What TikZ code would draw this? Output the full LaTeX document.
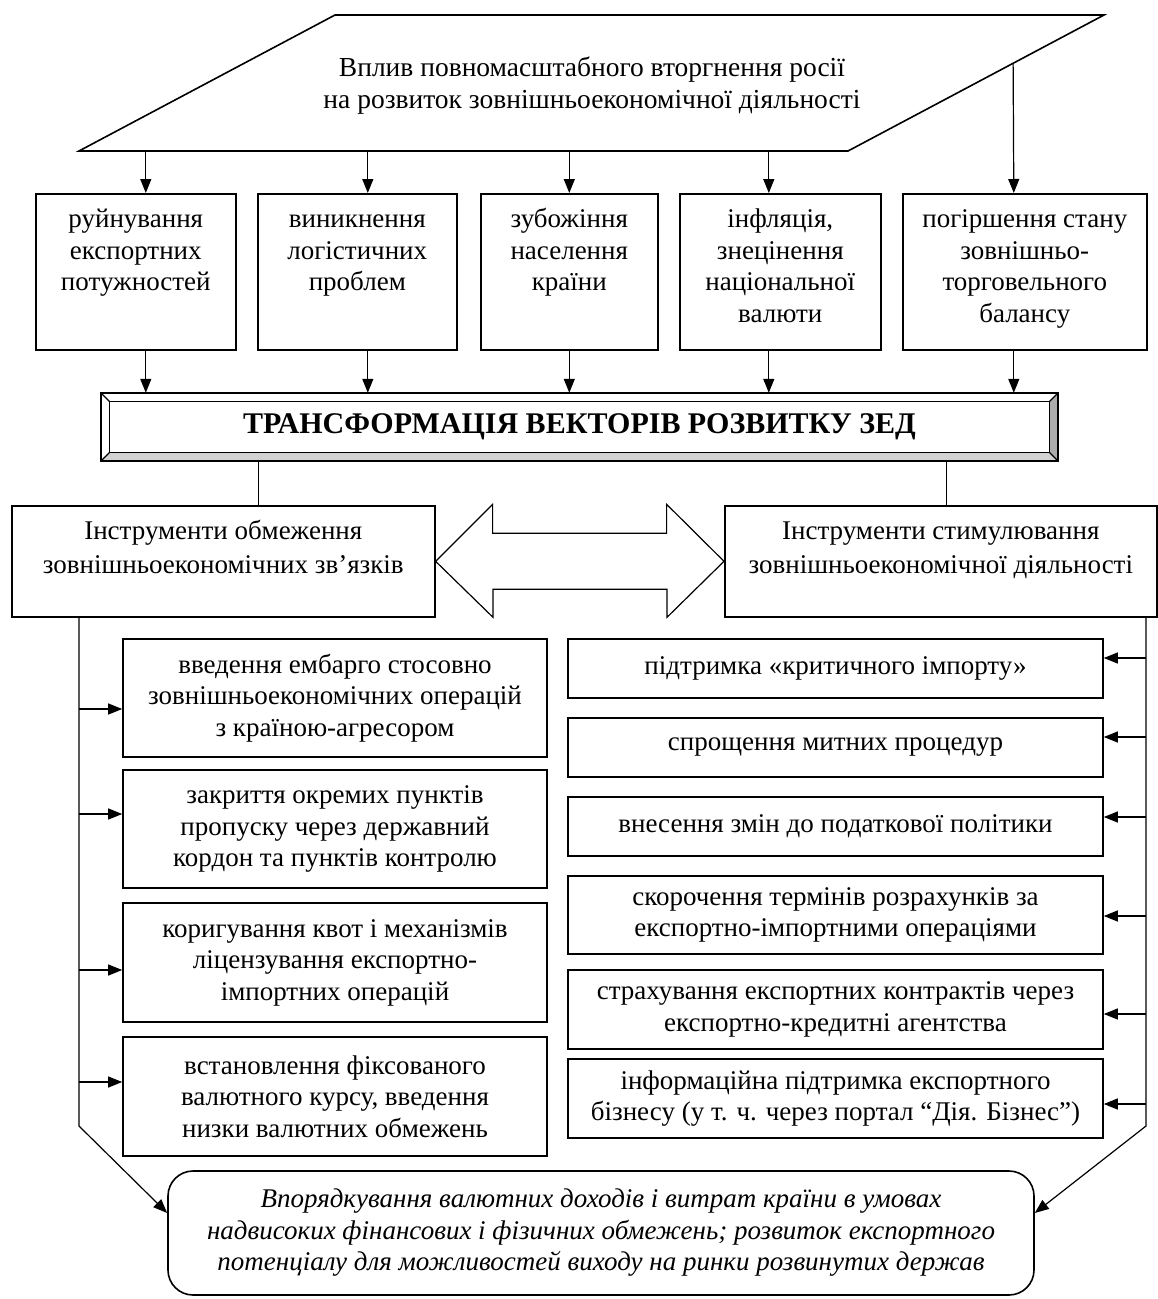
\documentclass[tikz,border=0pt]{standalone}
\usepackage{fontspec}
\setmainfont{Liberation Serif}
\usetikzlibrary{arrows.meta,calc}
\newcommand\tbx[3]{\parbox[c][#2][t]{#1}{\centering\rule{0pt}{34pt}#3}}
\begin{document}
\begin{tikzpicture}[x=1pt,y=-1pt,
  every node/.style={font=\fontsize{27}{31.5}\selectfont},
  box/.style={draw, line width=1.6pt, inner sep=0pt, align=center},
  frame/.style={draw, line width=1.6pt},
  ln/.style={line width=1.2pt},
  arr/.style={ln, -{Triangle[length=14pt,width=11pt]}},
]
\useasboundingbox[fill=white] (0,0) rectangle (1158,1299);

% parallelogram
\coordinate (PTL) at (335,15);
\coordinate (PTR) at (1104,15);
\coordinate (PBR) at (848,151);
\coordinate (PBL) at (79,151);
\draw[frame] (PTL) -- (PTR) -- (PBR) -- (PBL) -- cycle;
\node[align=center, font=\fontsize{27.5}{32}\selectfont] (P) at (592,86) {Вплив повномасштабного вторгнення росії\\на розвиток зовнішньоекономічної діяльності};

% top boxes
\node[box, anchor=north west] (b1) at (35,193) {\tbx{200pt}{156pt}{руйнування\\експортних\\потужностей}};
\node[box, anchor=north west] (b2) at (257,193) {\tbx{199pt}{156pt}{виникнення\\логістичних\\проблем}};
\node[box, anchor=north west] (b3) at (480,193) {\tbx{177pt}{156pt}{зубожіння\\населення\\країни}};
\node[box, anchor=north west] (b4) at (679,193) {\tbx{201pt}{156pt}{інфляція,\\знецінення\\національної\\валюти}};
\node[box, anchor=north west] (b5) at (902,193) {\tbx{244pt}{156pt}{погіршення стану\\зовнішньо-\\торговельного\\балансу}};

% bevel box
\node[inner sep=0pt, minimum width=957pt, minimum height=68pt,
      font=\fontsize{30}{34}\selectfont\bfseries] (T) at (579.5,427) {ТРАНСФОРМАЦІЯ ВЕКТОРІВ РОЗВИТКУ ЗЕД};
\coordinate (iNW) at ($(T.north west)+(9,9)$);
\coordinate (iNE) at ($(T.north east)+(-9,9)$);
\coordinate (iSE) at ($(T.south east)+(-9,-9)$);
\coordinate (iSW) at ($(T.south west)+(9,-9)$);
\fill[gray!35] (T.south west) -- (T.south east) -- (iSE) -- (iSW) -- cycle;
\fill[gray!65] (T.south east) -- (T.north east) -- (iNE) -- (iSE) -- cycle;
\draw[ln] (iNW) -- (iNE) -- (iSE) -- (iSW) -- cycle;
\draw[ln] (T.north west) -- (iNW) (T.north east) -- (iNE) (T.south east) -- (iSE) (T.south west) -- (iSW);
\draw[frame] (T.north west) -- (T.north east) -- (T.south east) -- (T.south west) -- cycle;

% arrows parallelogram -> boxes -> T
\draw[arr] ([xshift=10pt]b1.north |- PBL) -- ([xshift=10pt]b1.north);
\draw[arr] ([xshift=10.5pt]b2.north |- PBL) -- ([xshift=10.5pt]b2.north);
\draw[arr] (b3.north |- PBL) -- (b3.north);
\draw[arr] ([xshift=-11.5pt]b4.north |- PBL) -- ([xshift=-11.5pt]b4.north);
\draw[arr] ($(PTR)!0.355!(PBR)$) -- ([xshift=-11pt]b5.north);
\draw[arr] ([xshift=10pt]b1.south) -- ([xshift=10pt]b1.south |- T.north);
\draw[arr] ([xshift=10.5pt]b2.south) -- ([xshift=10.5pt]b2.south |- T.north);
\draw[arr] (b3.south) -- (b3.south |- T.north);
\draw[arr] ([xshift=-11.5pt]b4.south) -- ([xshift=-11.5pt]b4.south |- T.north);
\draw[arr] ([xshift=-11pt]b5.south) -- ([xshift=-11pt]b5.south |- T.north);

% instrument boxes
\node[box, anchor=north west] (IL) at (11,505) {\parbox[c][111pt][t]{423pt}{\centering\rule{0pt}{34pt}Інструменти обмеження\\[2.5pt]зовнішньоекономічних зв’язків}};
\node[box, anchor=north west] (IR) at (724,505) {\parbox[c][111pt][t]{432pt}{\centering\rule{0pt}{34pt}Інструменти стимулювання\\[2.5pt]зовнішньоекономічної діяльності}};
\draw[ln] ([xshift=35.5pt]IL.north) -- ([xshift=35.5pt]IL.north |- T.south);
\draw[ln] ([xshift=5.5pt]IR.north) -- ([xshift=5.5pt]IR.north |- T.south);

% double arrow
\draw[ln, fill=white] (IL.east) -- ++(57,-57) -- ++(0,29) -- ++(174,0) -- ++(0,-29)
  -- (IR.west) -- ++(-57,56) -- ++(0,-28) -- ++(-174,0) -- ++(0,28) -- cycle;

% left column
\node[box, minimum width=424pt, minimum height=118pt] (L1) at (335,698) {введення ембарго стосовно\\зовнішньоекономічних операцій\\з країною-агресором};
\node[box, minimum width=424pt, minimum height=118pt] (L2) at (335,829) {закриття окремих пунктів\\пропуску через державний\\кордон та пунктів контролю};
\node[box, minimum width=424pt, minimum height=119pt] (L3) at (335,962.5) {коригування квот і механізмів\\ліцензування експортно-\\імпортних операцій};
\node[box, minimum width=424pt, minimum height=119pt] (L4) at (335,1096.5) {встановлення фіксованого\\валютного курсу, введення\\низки валютних обмежень};

% right column
\node[box, minimum width=535pt, minimum height=59pt] (R1) at (835.5,668.5) {підтримка «критичного імпорту»};
\node[box, minimum width=535pt, minimum height=59pt] (R2) at (835.5,747.5) {спрощення митних процедур};
\node[box, minimum width=535pt, minimum height=59pt] (R3) at (835.5,826.5) {внесення змін до податкової політики};
\node[box, minimum width=535pt, minimum height=78pt] (R4) at (835.5,915) {скорочення термінів розрахунків за\\експортно-імпортними операціями};
\node[box, minimum width=535pt, minimum height=79pt] (R5) at (835.5,1009.5) {страхування експортних контрактів через\\експортно-кредитні агентства};
\node[box, minimum width=535pt, minimum height=79pt] (R6) at (835.5,1098.5) {інформаційна підтримка експортного\\бізнесу (у т. ч. через портал “Дія. Бізнес”)};

% bottom box
\node[box, rounded corners=25pt, minimum width=866pt, minimum height=124pt,
      font=\fontsize{27}{31.5}\selectfont\itshape] (B) at (601,1233) {Впорядкування валютних доходів і витрат країни в умовах\\надвисоких фінансових і фізичних обмежень; розвиток експортного\\потенціалу для можливостей виходу на ринки розвинутих держав};

% trunks
\coordinate (LB) at (79,1126);
\coordinate (RB) at (1146,1126);
\draw[arr] (IL.south -| LB) -- (LB) -- ([yshift=20pt]B.west);
\draw[arr] (IR.south -| RB) -- (RB) -- ([yshift=20pt]B.east);

\draw[arr] ([yshift=-11pt]L1.west -| LB) -- ([yshift=-11pt]L1.west);
\draw[arr] ([yshift=15pt]L2.west -| LB) -- ([yshift=15pt]L2.west);
\draw[arr] ([yshift=-7.5pt]L3.west -| LB) -- ([yshift=-7.5pt]L3.west);
\draw[arr] ([yshift=14.5pt]L4.west -| LB) -- ([yshift=14.5pt]L4.west);

\draw[arr] ([yshift=10.5pt]R1.east -| RB) -- ([yshift=10.5pt]R1.east);
\draw[arr] ([yshift=10.5pt]R2.east -| RB) -- ([yshift=10.5pt]R2.east);
\draw[arr] ([yshift=9.5pt]R3.east -| RB) -- ([yshift=9.5pt]R3.east);
\draw[arr] ([yshift=-1pt]R4.east -| RB) -- ([yshift=-1pt]R4.east);
\draw[arr] ([yshift=-4.5pt]R5.east -| RB) -- ([yshift=-4.5pt]R5.east);
\draw[arr] ([yshift=-5.5pt]R6.east -| RB) -- ([yshift=-5.5pt]R6.east);
\end{tikzpicture}
\end{document}
